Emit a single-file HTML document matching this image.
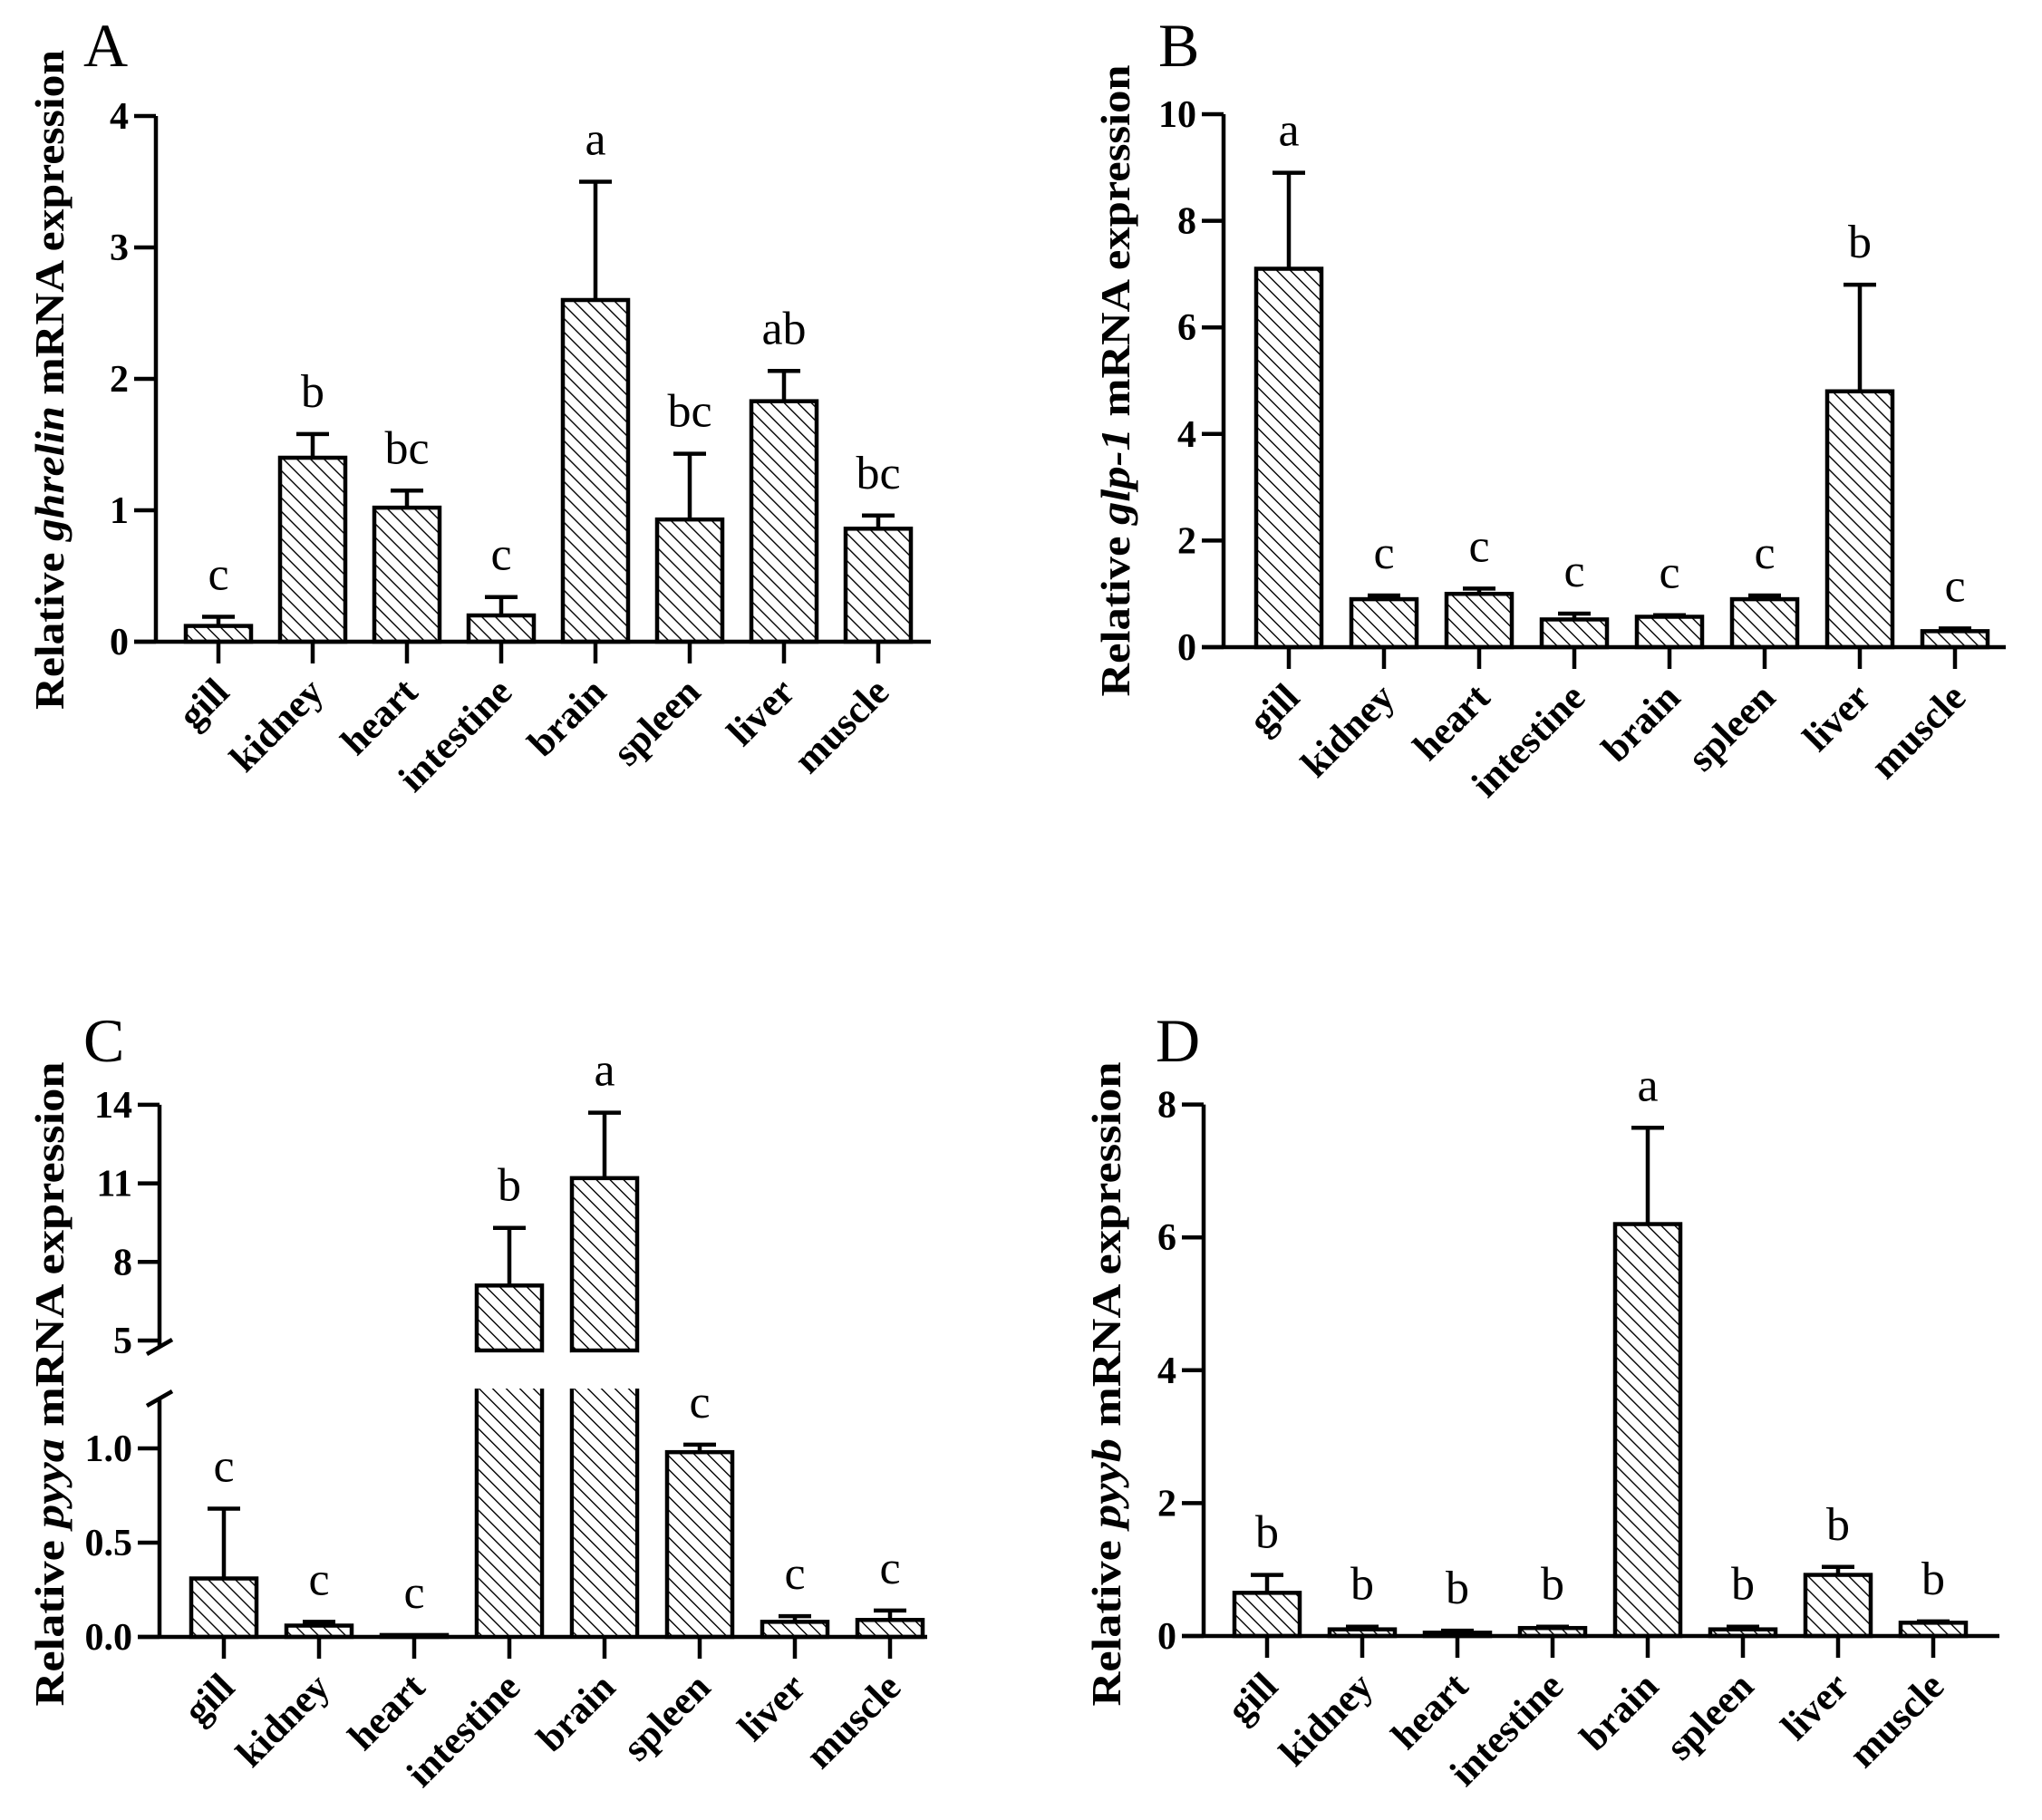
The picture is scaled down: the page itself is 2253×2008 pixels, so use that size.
<!DOCTYPE html>
<html><head><meta charset="utf-8"><style>
html,body{margin:0;padding:0;background:#fff;}
svg{display:block;}
text{font-family:"Liberation Serif",serif;fill:#000;}
</style></head><body>
<svg id="fig" width="2253" height="2008" viewBox="0 0 2253 2008" xmlns="http://www.w3.org/2000/svg">
<defs>
<pattern id="hatch" patternUnits="userSpaceOnUse" width="10.6" height="10.6" patternTransform="rotate(-45)">
<rect width="10.6" height="10.6" fill="#fff"/>
<line x1="0" y1="0" x2="0" y2="10.6" stroke="#000" stroke-width="2.8"/>
</pattern>
</defs>
</svg>
<script>
const tissues = ["gill","kidney","heart","intestine","brain","spleen","liver","muscle"];
const ghrelinMean = [0.12,1.40,1.02,0.20,2.60,0.93,1.83,0.86];
const ghrelinErr  = [0.07,0.18,0.13,0.14,0.90,0.50,0.23,0.10];
const ghrelinSig  = ["c","b","bc","c","a","bc","ab","bc"];
const ghrelinTicks = [0,1,2,3,4];
const glpMean = [7.1,0.9,1.0,0.52,0.57,0.9,4.8,0.3];
const glpErr  = [1.8,0.07,0.1,0.11,0.03,0.07,2.0,0.05];
const glpSig  = ["a","c","c","c","c","c","b","c"];
const glpTicks = [0,2,4,6,8,10];
const pyyaMean = [0.31,0.06,0.01,7.1,11.2,0.98,0.08,0.09];
const pyyaErr  = [0.37,0.02,0.0,2.2,2.5,0.04,0.03,0.05];
const pyyaSig  = ["c","c","c","b","a","c","c","c"];
const pyyaTicksLow = [0,0.5,1.0];
const pyyaTicksLowLabels = ["0.0","0.5","1.0"];
const pyyaTicksHigh = [5,8,11,14];
const pyybMean = [0.65,0.1,0.05,0.12,6.2,0.1,0.92,0.2];
const pyybErr  = [0.27,0.04,0.03,0.02,1.45,0.04,0.12,0.02];
const pyybSig  = ["b","b","b","b","a","b","b","b"];
const pyybTicks = [0,2,4,6,8];

const NS="http://www.w3.org/2000/svg";
const svg=document.getElementById('fig');
function mk(tag,attrs,parent){const e=document.createElementNS(NS,tag);for(const k in attrs)e.setAttribute(k,attrs[k]);(parent||svg).appendChild(e);return e;}
const LW=4.5, BW=72, CAP=36;

function panel(cfg){
  const g=mk('g',{});
  
  
  const L=mk('text',{x:cfg.letterX,y:cfg.letterY,'font-size':68},g);L.textContent=cfg.id.toUpperCase();
  
  
  const t=mk('text',{transform:`translate(${cfg.titleX},${cfg.titleY}) rotate(-90)`,'text-anchor':'middle','font-size':46,'font-weight':'bold',textLength:cfg.titleLen,lengthAdjust:'spacingAndGlyphs'},g);
  
  
  const s1=mk('tspan',{},t);s1.textContent='Relative ';
  const s2=mk('tspan',{'font-style':'italic'},t);s2.textContent=cfg.gene;
  const s3=mk('tspan',{},t);s3.textContent=' mRNA expression';
  const cx=i=>cfg.x0+i*cfg.step;
  const y0=cfg.y0;
  cfg.mean.forEach((m,i)=>{
    const x=cx(i)-BW/2;
    const top=cfg.y(m), etop=cfg.y(m+cfg.err[i]);
    const b=mk('g',{},g);
    
    
    if(cfg.broken && m>cfg.lowMax){
      mk('rect',{x:x,y:top,width:BW,height:cfg.gapTop-top,fill:'url(#hatch)',stroke:'#000','stroke-width':LW},b);
      mk('path',{d:`M${x},${cfg.gapBot}V${y0}M${x+BW},${cfg.gapBot}V${y0}`,stroke:'#000','stroke-width':LW,fill:'none'},b);
      mk('rect',{x:x+LW/2,y:cfg.gapBot,width:BW-LW,height:y0-cfg.gapBot,fill:'url(#hatch)'},b);
      mk('rect',{x:x-1,y:cfg.gapTop+LW/2,width:BW+2,height:cfg.gapBot-cfg.gapTop-LW/2,fill:'#fff'},b);
    } else {
      mk('rect',{x:x,y:top,width:BW,height:Math.max(y0-top,0.5),fill:'url(#hatch)',stroke:'#000','stroke-width':LW},b);
    }
    if(cfg.err[i]>0){
      mk('line',{x1:cx(i),y1:top,x2:cx(i),y2:etop,stroke:'#000','stroke-width':LW},b);
      mk('line',{x1:cx(i)-CAP/2,y1:etop,x2:cx(i)+CAP/2,y2:etop,stroke:'#000','stroke-width':LW},b);
    }
    const st=mk('text',{x:cx(i),y:etop-30,'text-anchor':'middle','font-size':52},g);
    st.textContent=cfg.sig[i];
    
    
    mk('line',{x1:cx(i),y1:y0,x2:cx(i),y2:y0+24,stroke:'#000','stroke-width':LW},g);
    const xl=mk('text',{transform:`translate(${cx(i)+14},${y0+58}) rotate(-45)`,'text-anchor':'end','font-size':43,'font-weight':'bold'},g);
    xl.textContent=tissues[i];
    
    
  });
  const ax=cfg.axisX;
  mk('line',{x1:ax-24,y1:y0,x2:cfg.xEnd,y2:y0,stroke:'#000','stroke-width':LW},g);
  if(cfg.broken){
    mk('line',{x1:ax,y1:y0,x2:ax,y2:cfg.axLowTop,stroke:'#000','stroke-width':LW},g);
    mk('line',{x1:ax,y1:cfg.axHighBot,x2:ax,y2:cfg.y(14),stroke:'#000','stroke-width':LW},g);
    mk('line',{x1:ax-14,y1:cfg.axHighBot+8,x2:ax+14,y2:cfg.axHighBot-8,stroke:'#000','stroke-width':LW},g);
    mk('line',{x1:ax-14,y1:cfg.axLowTop+8,x2:ax+14,y2:cfg.axLowTop-8,stroke:'#000','stroke-width':LW},g);
  } else {
    mk('line',{x1:ax,y1:y0,x2:ax,y2:cfg.y(cfg.ticks[cfg.ticks.length-1]),stroke:'#000','stroke-width':LW},g);
  }
  cfg.ticks.forEach((v,k)=>{
    const yy=cfg.y(v);
    mk('line',{x1:ax-24,y1:yy,x2:ax,y2:yy,stroke:'#000','stroke-width':LW},g);
    const tl=mk('text',{x:ax-30,y:yy+14,'text-anchor':'end','font-size':42,'font-weight':'bold'},g);
    tl.textContent=cfg.tickLabels?cfg.tickLabels[k]:String(v);
    
    
  });
}

panel({id:'a',gene:'ghrelin',mean:ghrelinMean,err:ghrelinErr,sig:ghrelinSig,ticks:ghrelinTicks,
  axisX:172,y0:708,y:v=>708-v*145,x0:241,step:104,xEnd:1027,
  letterX:92,letterY:73,titleX:70,titleY:419,titleLen:728});
panel({id:'b',gene:'glp-1',mean:glpMean,err:glpErr,sig:glpSig,ticks:glpTicks,
  axisX:1350,y0:714,y:v=>714-v*58.8,x0:1422,step:105,xEnd:2213,
  letterX:1278,letterY:73,titleX:1246,titleY:420,titleLen:697});
const lowY=v=>1806-v*208, highY=v=>1479-(v-5)*28.9;
panel({id:'c',gene:'pyya',mean:pyyaMean,err:pyyaErr,sig:pyyaSig,
  ticks:pyyaTicksLow.concat(pyyaTicksHigh),tickLabels:pyyaTicksLowLabels.concat(pyyaTicksHigh.map(String)),
  broken:true,lowMax:1.3,gapTop:1490,gapBot:1532,axLowTop:1543,axHighBot:1486,
  axisX:176,y0:1806,y:v=>v<=1.3?lowY(v):highY(v),x0:247,step:105,xEnd:1023,
  letterX:92,letterY:1171,titleX:70,titleY:1527,titleLen:711});
panel({id:'d',gene:'pyyb',mean:pyybMean,err:pyybErr,sig:pyybSig,ticks:pyybTicks,
  axisX:1328,y0:1805,y:v=>1805-v*73.3,x0:1398,step:105,xEnd:2206,
  letterX:1275,letterY:1171,titleX:1236,titleY:1527,titleLen:711});
</script>
</body></html>
